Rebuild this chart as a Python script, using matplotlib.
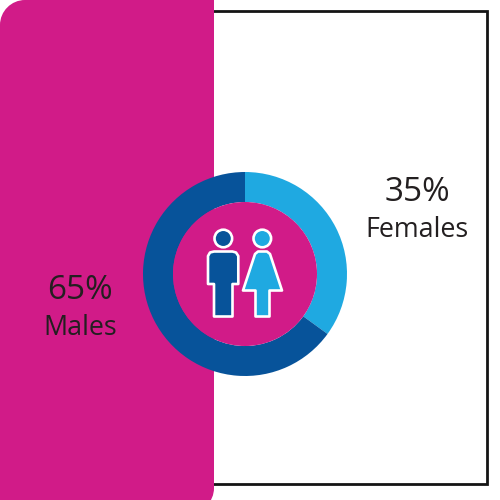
import matplotlib
matplotlib.use("Agg")
import matplotlib.pyplot as plt
from matplotlib.patches import PathPatch, Rectangle, Circle
from matplotlib.path import Path

categories = ["Females", "Males"]
shares = [35, 65]
pie_colors = ["#1FA9E1", "#07539A"]
PINK = "#D11B88"
INK = "#231F20"

fig = plt.figure(figsize=(5, 5), dpi=100)
ax = fig.add_axes([0, 0, 1, 1])

# Frame
ax.add_patch(Rectangle((100, 11.3), 387.3, 473, fill=False, ec="#141414", lw=2.0, zorder=1))

# Pink panel with rounded corners
def panel():
    L, R, T, B = 0, 214, 0, 513
    r1, r2 = 25, 25
    k = 0.55
    v = [(L, B), (L, T + r1), (L, T + r1 - k * r1), (L + r1 - k * r1, T), (L + r1, T),
         (R, T), (R, B - r2), (R, B - r2 + k * r2), (R - r2 + k * r2, B), (R - r2, B), (L, B)]
    c = [Path.MOVETO, Path.LINETO, Path.CURVE4, Path.CURVE4, Path.CURVE4,
         Path.LINETO, Path.LINETO, Path.CURVE4, Path.CURVE4, Path.CURVE4, Path.CLOSEPOLY]
    return Path(v, c)
ax.add_patch(PathPatch(panel(), fc=PINK, ec="none", zorder=2))

# Donut (y axis is inverted, so increasing angle runs clockwise on screen)
ax.pie(shares, colors=pie_colors, center=(245, 274), radius=102, startangle=-90,
       counterclock=True, wedgeprops=dict(width=30, lw=0, zorder=3), frame=True)
ax.set_xlim(0, 500)
ax.set_ylim(500, 0)
ax.set_aspect("auto")
ax.axis("off")
ax.add_patch(Circle((245, 274), 72, fc=PINK, ec="none", zorder=4))

# Icons
def icon(verts, color):
    ax.add_patch(PathPatch(Path(verts + [verts[0]], closed=True), fc=color, ec="white",
                           lw=1.9, joinstyle="round", zorder=5))

male = [(214, 251.5), (232.5, 251.5), (236, 252.5), (238.3, 256), (238.3, 284), (232.5, 284),
        (232.5, 316.5), (214, 316.5), (214, 284), (208, 284), (208, 256), (210, 252.5)]
female = [(258, 251.5), (267, 251.5), (270, 254), (282, 290.5), (269.5, 290.5), (269.5, 316.5),
          (255.5, 316.5), (255.5, 290.5), (243, 290.5), (255, 254)]
icon(male, "#07539A")
icon(female, "#1FA9E1")
ax.add_patch(Circle((223.3, 238.5), 8.8, fc="#07539A", ec="white", lw=1.9, zorder=5))
ax.add_patch(Circle((262.3, 238.5), 8.8, fc="#1FA9E1", ec="white", lw=1.9, zorder=5))

# Labels
labels = {"Females": (417, f"{shares[0]}%", 192.5, 230), "Males": (80, f"{shares[1]}%", 290.5, 328)}
for name in categories:
    x, pct, y1, y2 = labels[name]
    ax.text(x, y1, pct, ha="center", va="center", fontsize=24, family="Open Sans", color=INK, zorder=6)
    ax.text(x, y2, name, ha="center", va="center", fontsize=19.4, family="Open Sans", color=INK, zorder=6)

fig.savefig("out.png", dpi=100)
